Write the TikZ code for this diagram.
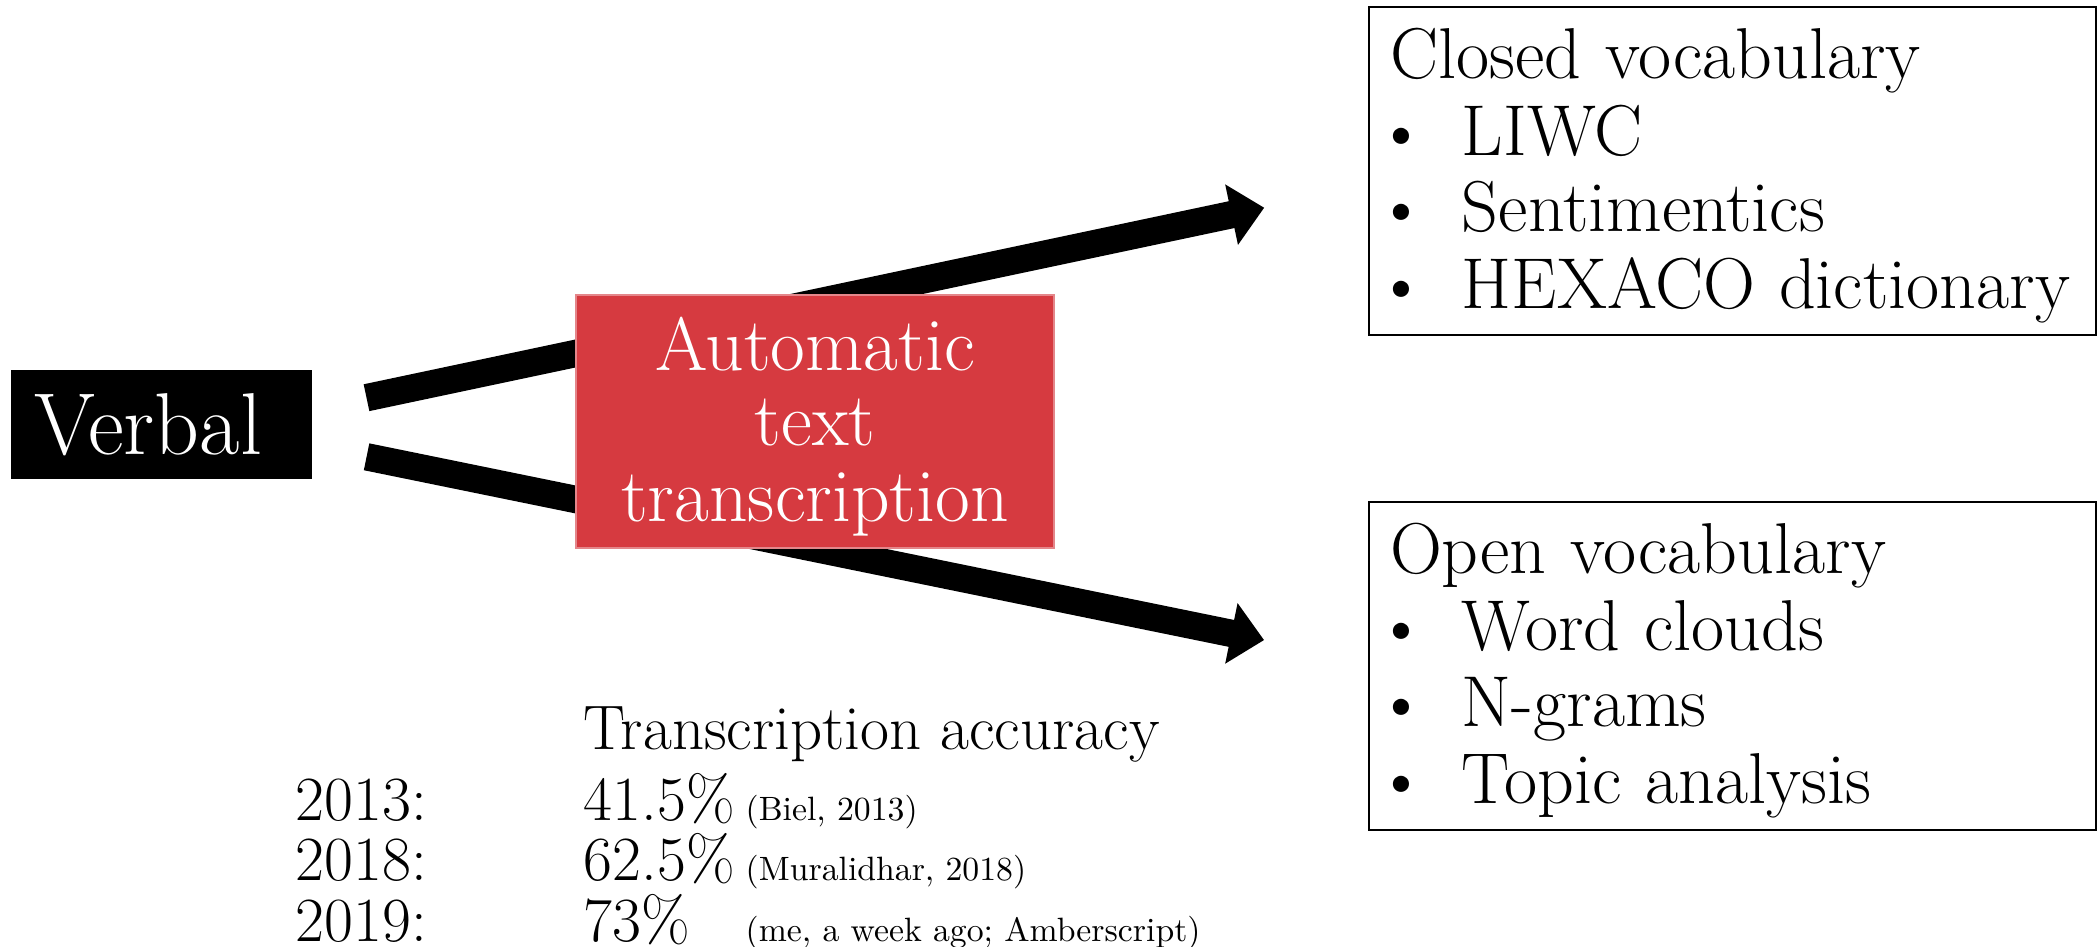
\documentclass[tikz,border=0pt]{standalone}
\usepackage{tikz}
\usetikzlibrary{arrows.meta}
\definecolor{boxred}{RGB}{214,58,64}
\definecolor{boxredline}{RGB}{228,134,138}

\begin{document}
\begin{tikzpicture}[
    verbalbox/.style={fill=black, text=white, minimum width=3.01cm, minimum height=1.09cm, inner xsep=0.23cm, text width=2.55cm, align=left, font=\fontsize{25}{28}\selectfont},
    redbox/.style={fill=boxred, draw=boxredline, line width=0.6pt, text=white, align=center, minimum width=4.78cm, minimum height=2.49cm, font=\fontsize{21.5}{21.5}\selectfont},
    vocab/.style={draw, line width=0.6pt, minimum width=7.27cm, minimum height=3.28cm, inner xsep=0.21cm, text width=6.85cm, align=left, font=\fontsize{20.5}{21.8}\selectfont},
    fat/.style={line width=7.8pt, -{Triangle[length=9.5pt,width=17pt]}, shorten <=0.55cm, shorten >=1.06cm},
    acc/.style={anchor=base west, inner sep=0pt, font=\fontsize{17.9}{20}\selectfont},
    cite/.style={anchor=base west, inner sep=0pt, font=\fontsize{9.6}{11}\selectfont}
]

    \useasboundingbox (0, 0) rectangle (21, 9.47);

    \node [verbalbox] (verbal) at (1.615, 5.225) {Verbal};
    \node [vocab] (closed) at (17.325, 7.76) {\rule{0pt}{0.6cm}Closed vocabulary\\
        \makebox[0.72cm][l]{\hspace{-0.15cm}\textbullet}LIWC\\
        \makebox[0.72cm][l]{\hspace{-0.15cm}\textbullet}Sentimentics\\
        \makebox[0.72cm][l]{\hspace{-0.15cm}\textbullet}\mbox{HEXACO dictionary}};
    \node [vocab] (open) at (17.325, 2.81) {\rule{0pt}{0.6cm}Open vocabulary\\
        \makebox[0.72cm][l]{\hspace{-0.15cm}\textbullet}Word clouds\\
        \makebox[0.72cm][l]{\hspace{-0.15cm}\textbullet}N-grams\\
        \makebox[0.72cm][l]{\hspace{-0.15cm}\textbullet}Topic analysis};

    \draw [fat] ([yshift=1.54mm]verbal.east) to ([yshift=-1.48mm]closed.west);
    \draw [fat] ([yshift=-2.13mm]verbal.east) to ([yshift=0.47mm]open.west);

    \node [redbox] (asr) at (8.15, 5.255) {\rule{0pt}{0.63cm}Automatic\\text\\transcription};

    \node [acc] (head) at (5.83, 1.97) {Transcription accuracy};
    \node [acc] (y13) at (2.95, 1.26) {2013:};
    \node [acc] (v13) at (5.83, 1.26) {41.5\%};
    \node [cite] (c13) at (7.45, 1.26) {(Biel, 2013)};
    \node [acc] (y18) at (2.95, 0.66) {2018:};
    \node [acc] (v18) at (5.83, 0.66) {62.5\%};
    \node [cite] (c18) at (7.45, 0.66) {(Muralidhar, 2018)};
    \node [acc] (y19) at (2.95, 0.05) {2019:};
    \node [acc] (v19) at (5.83, 0.05) {73\%};
    \node [cite] (c19) at (7.45, 0.05) {(me, a week ago; Amberscript)};

\end{tikzpicture}
\end{document}
